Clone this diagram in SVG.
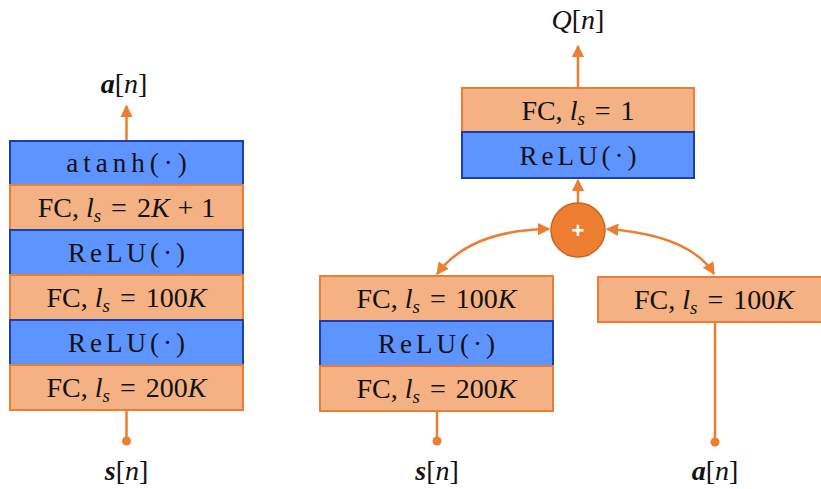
<svg xmlns="http://www.w3.org/2000/svg" width="821" height="489" viewBox="0 0 821 489">
<defs>
<style>
.fc{fill:#F4B183;stroke:#ED7D31;stroke-width:2}
.re{fill:#5E94FF;stroke:#1F3FA8;stroke-width:2}
.t{font-family:"Liberation Serif","DejaVu Serif",serif;font-size:28px;fill:#111;text-anchor:middle}
.sp{letter-spacing:4px;font-size:27px}
.sp5{letter-spacing:5px;font-size:27px}
.i{font-style:italic}
.sub{font-style:italic;font-size:19px}
.b{font-weight:bold;font-style:italic}
.ln{stroke:#ED7D31;stroke-width:2.5;fill:none}
.dot{fill:#ED7D31}
</style>
<marker id="ah" viewBox="0 0 10 10" refX="9" refY="5" markerWidth="5" markerHeight="5" orient="auto-start-reverse">
<path d="M0,0L10,5L0,10z" fill="#ED7D31"/>
</marker>
</defs>
<g id="connectors">
<line class="ln" x1="126.5" y1="141" x2="126.5" y2="106" marker-end="url(#ah)"/>
<line class="ln" x1="126.5" y1="410" x2="126.5" y2="440"/>
<circle class="dot" cx="126.5" cy="441" r="4.5"/>
<line class="ln" x1="578" y1="88" x2="578" y2="46" marker-end="url(#ah)"/>
<line class="ln" x1="578" y1="203" x2="578" y2="180" marker-end="url(#ah)"/>
<path class="ln" d="M549,229 Q470,230 437,274" marker-start="url(#ah)" marker-end="url(#ah)"/>
<path class="ln" d="M607,229 Q690,235 714,274" marker-start="url(#ah)" marker-end="url(#ah)"/>
<line class="ln" x1="437" y1="411" x2="437" y2="440"/>
<circle class="dot" cx="437" cy="441" r="4.5"/>
<line class="ln" x1="715" y1="322" x2="715" y2="440"/>
<circle class="dot" cx="715" cy="442" r="4.5"/>
</g>
<g id="label-a-out"><text class="t" x="124" y="93"><tspan class="b">a</tspan>[<tspan class="i">n</tspan>]</text></g>
<g id="left-stack">
<g id="l-atanh"><rect class="re" x="10" y="141" width="233" height="44"/><text class="t sp5" x="129" y="172">atanh(·)</text></g>
<g id="l-fc1"><rect class="fc" x="10" y="185" width="233" height="45"/><text class="t" x="126.5" y="217">FC, <tspan class="i">l</tspan><tspan class="sub" dy="5">s</tspan><tspan dy="-5" dx="10">=</tspan><tspan dx="10">2</tspan><tspan class="i">K</tspan><tspan dx="8">+</tspan><tspan dx="8">1</tspan></text></g>
<g id="l-relu1"><rect class="re" x="10" y="230" width="233" height="45"/><text class="t sp" x="128.5" y="262">ReLU(·)</text></g>
<g id="l-fc2"><rect class="fc" x="10" y="275" width="233" height="45"/><text class="t" x="126.5" y="307">FC, <tspan class="i">l</tspan><tspan class="sub" dy="5">s</tspan><tspan dy="-5" dx="10">=</tspan><tspan dx="10">100</tspan><tspan class="i">K</tspan></text></g>
<g id="l-relu2"><rect class="re" x="10" y="320" width="233" height="45"/><text class="t sp" x="128.5" y="352">ReLU(·)</text></g>
<g id="l-fc3"><rect class="fc" x="10" y="365" width="233" height="45"/><text class="t" x="126.5" y="397">FC, <tspan class="i">l</tspan><tspan class="sub" dy="5">s</tspan><tspan dy="-5" dx="10">=</tspan><tspan dx="10">200</tspan><tspan class="i">K</tspan></text></g>
</g>
<g id="label-s-left"><text class="t" x="126.5" y="480"><tspan class="b">s</tspan>[<tspan class="i">n</tspan>]</text></g>
<g id="label-Q"><text class="t" x="578" y="29"><tspan class="i">Q</tspan>[<tspan class="i">n</tspan>]</text></g>
<g id="r-top">
<g id="r-fc"><rect class="fc" x="462" y="88" width="232" height="44"/><text class="t" x="578" y="120">FC, <tspan class="i">l</tspan><tspan class="sub" dy="5">s</tspan><tspan dy="-5" dx="10">=</tspan><tspan dx="10">1</tspan></text></g>
<g id="r-relu"><rect class="re" x="462" y="132" width="232" height="46"/><text class="t sp" x="580" y="165">ReLU(·)</text></g>
</g>
<g id="sum"><circle cx="578" cy="230" r="27" fill="#ED7D31" stroke="#C9651E" stroke-width="1.5"/><text x="578" y="238" font-family="Liberation Sans,Arial,sans-serif" font-size="22" font-weight="bold" fill="#fff" text-anchor="middle">+</text></g>
<g id="s-stack">
<g id="s-fc1"><rect class="fc" x="320" y="276" width="233" height="45"/><text class="t" x="436.5" y="308">FC, <tspan class="i">l</tspan><tspan class="sub" dy="5">s</tspan><tspan dy="-5" dx="10">=</tspan><tspan dx="10">100</tspan><tspan class="i">K</tspan></text></g>
<g id="s-relu"><rect class="re" x="320" y="321" width="233" height="45"/><text class="t sp" x="438.5" y="353">ReLU(·)</text></g>
<g id="s-fc2"><rect class="fc" x="320" y="366" width="233" height="45"/><text class="t" x="436.5" y="398">FC, <tspan class="i">l</tspan><tspan class="sub" dy="5">s</tspan><tspan dy="-5" dx="10">=</tspan><tspan dx="10">200</tspan><tspan class="i">K</tspan></text></g>
</g>
<g id="a-fc"><rect class="fc" x="598" y="277" width="224" height="45"/><text class="t" x="714" y="309">FC, <tspan class="i">l</tspan><tspan class="sub" dy="5">s</tspan><tspan dy="-5" dx="10">=</tspan><tspan dx="10">100</tspan><tspan class="i">K</tspan></text></g>
<g id="label-s-mid"><text class="t" x="437" y="480"><tspan class="b">s</tspan>[<tspan class="i">n</tspan>]</text></g>
<g id="label-a-right"><text class="t" x="715" y="480"><tspan class="b">a</tspan>[<tspan class="i">n</tspan>]</text></g>
</svg>
